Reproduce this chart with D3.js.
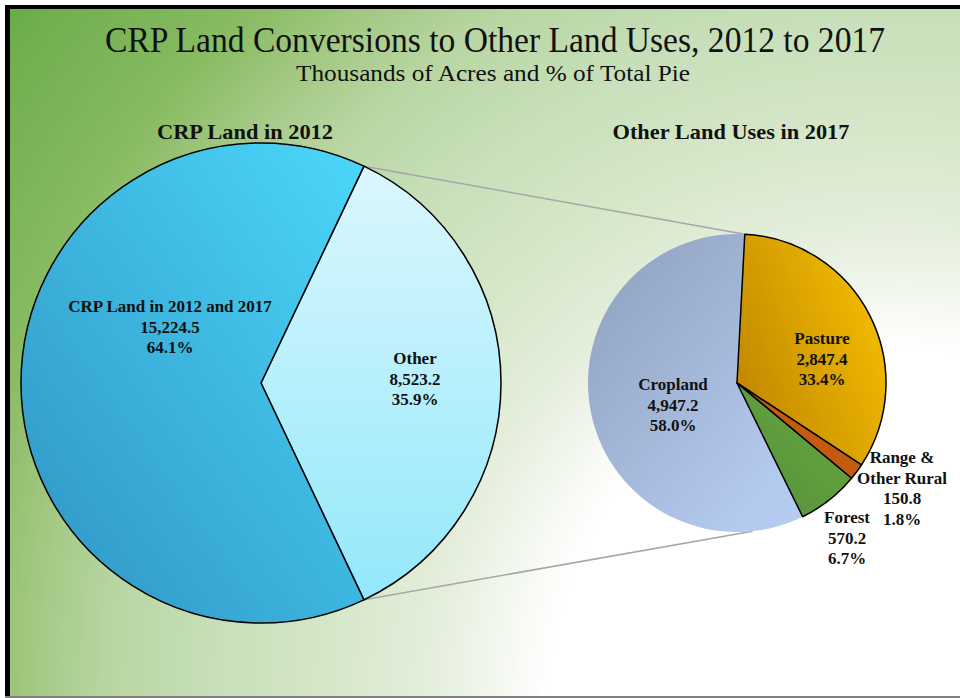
<!DOCTYPE html>
<html>
<head>
<meta charset="utf-8">
<script src="https://cdn.jsdelivr.net/npm/d3@7"></script>
<style>
  html, body { margin: 0; padding: 0; background: #ffffff; }
  svg { display: block; }
  text { font-family: "Liberation Serif", "Times New Roman", serif; fill: #111; }
</style>
</head>
<body>
<svg id="chart" width="960" height="698"></svg>
<script>
// ---- Data ----
const titleText = "CRP Land Conversions to Other Land Uses, 2012 to 2017";
const subtitleText = "Thousands of Acres and % of Total Pie";

const leftTitle = "CRP Land in 2012";
const leftCategories = ["Other", "CRP Land in 2012 and 2017"];
const leftValues = [8523.2, 15224.5];
const leftPercents = ["35.9%", "64.1%"];

const rightTitle = "Other Land Uses in 2017";
const rightCategories = ["Pasture", "Range & Other Rural", "Forest", "Cropland"];
const rightValues = [2847.4, 150.8, 570.2, 4947.2];
const rightPercents = ["33.4%", "1.8%", "6.7%", "58.0%"];

// ---- Setup ----
const W = 960, H = 698;
const svg = d3.select("#chart");
const defs = svg.append("defs");

// background gradient (white centre at bottom right, green toward top left)
const bg = defs.append("radialGradient").attr("id", "bgGrad")
  .attr("gradientUnits", "userSpaceOnUse")
  .attr("cx", 900).attr("cy", 700).attr("r", 1130).attr("fx", 900).attr("fy", 700);
[[0, "#ffffff"], [0.31, "#ffffff"], [0.42, "#e4eedb"], [0.53, "#d2e5c4"],
 [0.60, "#c8e0bb"], [0.70, "#b8d6a2"], [0.77, "#a3c883"], [0.84, "#88bb62"],
 [1, "#69ac49"]]
  .forEach(([o, c]) => bg.append("stop").attr("offset", o).attr("stop-color", c));

svg.append("rect").attr("x", 0).attr("y", 0).attr("width", W).attr("height", H).attr("fill", "#ffffff");
svg.append("rect").attr("x", 10).attr("y", 9).attr("width", W - 10).attr("height", H - 11).attr("fill", "url(#bgGrad)");
// frame
svg.append("rect").attr("x", 5).attr("y", 5).attr("width", W - 5).attr("height", 4).attr("fill", "#000");
svg.append("rect").attr("x", 5).attr("y", 5).attr("width", 5).attr("height", H - 5).attr("fill", "#000");
svg.append("rect").attr("x", 5).attr("y", H - 2).attr("width", W - 5).attr("height", 2).attr("fill", "#808080");

// gradients for slices
function lin(id, x1, y1, x2, y2, stops) {
  const g = defs.append("linearGradient").attr("id", id)
    .attr("x1", x1).attr("y1", y1).attr("x2", x2).attr("y2", y2);
  stops.forEach(([o, c]) => g.append("stop").attr("offset", o).attr("stop-color", c));
  return `url(#${id})`;
}
const leftFills = [
  lin("gOther", 0, 0, 0, 1, [[0, "#dcf7fd"], [1, "#92e8fb"]]),
  lin("gCRP", 0.05, 0.95, 0.95, 0.05, [[0, "#3096c5"], [1, "#4ad4f8"]])
];
const rightFills = [
  lin("gPasture", 0, 0.75, 1, 0.15, [[0, "#c08600"], [1, "#f8c200"]]),
  "#c55a11",
  lin("gForest", 0, 1, 1, 0, [[0, "#55903a"], [1, "#68a83f"]]),
  lin("gCrop", 0.1, 0.1, 0.8, 0.9, [[0, "#92a4c2"], [1, "#b4caef"]])
];

// ---- Titles ----
svg.append("text").attr("x", 495).attr("y", 52).attr("text-anchor", "middle")
  .attr("font-size", 35).attr("textLength", 780).attr("lengthAdjust", "spacingAndGlyphs")
  .text(titleText);
svg.append("text").attr("x", 493).attr("y", 81).attr("text-anchor", "middle")
  .attr("font-size", 24).attr("textLength", 394).attr("lengthAdjust", "spacingAndGlyphs")
  .text(subtitleText);
svg.append("text").attr("x", 245).attr("y", 139).attr("text-anchor", "middle")
  .attr("font-size", 22).attr("font-weight", "bold")
  .attr("textLength", 176).attr("lengthAdjust", "spacingAndGlyphs").text(leftTitle);
svg.append("text").attr("x", 731).attr("y", 139).attr("text-anchor", "middle")
  .attr("font-size", 22).attr("font-weight", "bold")
  .attr("textLength", 237).attr("lengthAdjust", "spacingAndGlyphs").text(rightTitle);

// ---- Pies ----
const L = { cx: 261, cy: 383, r: 240 };
const R = { cx: 737, cy: 383, r: 149 };
const deg = Math.PI / 180;

const leftFrac = leftValues[0] / d3.sum(leftValues);
const leftPie = d3.pie().sort(null)
  .startAngle(Math.PI / 2 - Math.PI * leftFrac)
  .endAngle(Math.PI / 2 - Math.PI * leftFrac + 2 * Math.PI);
const rightPie = d3.pie().sort(null).startAngle(3 * deg).endAngle(3 * deg + 2 * Math.PI);

const leftArcs = leftPie(leftValues);
const rightArcs = rightPie(rightValues);

function pt(c, a) { return [c.cx + c.r * Math.sin(a), c.cy - c.r * Math.cos(a)]; }

// connector lines
const lt = pt(L, leftArcs[0].startAngle), lb = pt(L, leftArcs[0].endAngle);
const rt = pt(R, rightArcs[0].startAngle), rb = pt(R, 174 * deg);
svg.append("line").attr("x1", lt[0]).attr("y1", lt[1]).attr("x2", rt[0]).attr("y2", rt[1])
  .attr("stroke", "#a6a6a6").attr("stroke-width", 1.5);
svg.append("line").attr("x1", lb[0]).attr("y1", lb[1]).attr("x2", rb[0]).attr("y2", rb[1])
  .attr("stroke", "#a6a6a6").attr("stroke-width", 1.5);

const leftArc = d3.arc().innerRadius(0).outerRadius(L.r);
const gl = svg.append("g").attr("transform", `translate(${L.cx},${L.cy})`);
gl.selectAll("path").data(leftArcs).join("path")
  .attr("d", leftArc).attr("fill", (d, i) => leftFills[i])
  .attr("stroke", "#000").attr("stroke-width", 1.5).attr("stroke-linejoin", "round");

const rightArc = d3.arc().innerRadius(0).outerRadius(R.r);
const gr = svg.append("g").attr("transform", `translate(${R.cx},${R.cy})`);
// cropland (last) drawn first without outline
const order = [3, 0, 1, 2];
order.forEach(i => {
  gr.append("path").attr("d", rightArc(rightArcs[i])).attr("fill", rightFills[i])
    .attr("stroke", i === 3 ? "none" : "#000").attr("stroke-width", 1.5)
    .attr("stroke-linejoin", "round");
});

// ---- Labels ----
const fmt = d3.format(",.1f");
function label(x, y, lines) {
  const t = svg.append("text").attr("x", x).attr("y", y).attr("text-anchor", "middle")
    .attr("font-size", 17).attr("font-weight", "bold");
  lines.forEach((s, k) => t.append("tspan").attr("x", x).attr("y", y + k * 20.5).text(s));
}
label(415, 364, [leftCategories[0], fmt(leftValues[0]), leftPercents[0]]);
label(170, 312, [leftCategories[1], fmt(leftValues[1]), leftPercents[1]]);

label(822, 344, [rightCategories[0], fmt(rightValues[0]), rightPercents[0]]);
label(902, 463, ["Range &", "Other Rural", fmt(rightValues[1]), rightPercents[1]]);
label(847, 523, [rightCategories[2], fmt(rightValues[2]), rightPercents[2]]);
label(673, 390, [rightCategories[3], fmt(rightValues[3]), rightPercents[3]]);
</script>
</body>
</html>
